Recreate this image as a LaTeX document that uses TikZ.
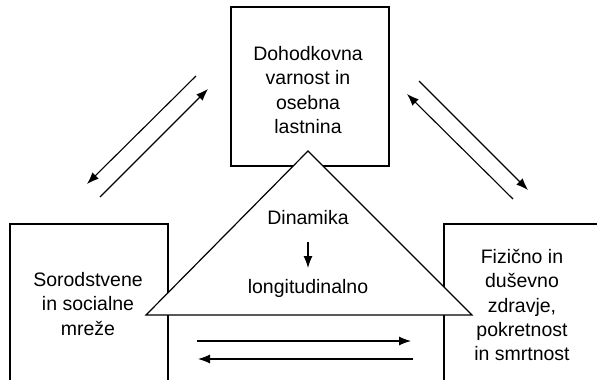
\documentclass[tikz,border=0pt]{standalone}
\usepackage{fontspec}
\setmainfont{Liberation Sans}
\usetikzlibrary{arrows.meta}

\tikzset{
  box/.style={draw, line width=1.2pt, fill=white, minimum width=158pt, inner sep=0pt},
  txt/.style={align=center, inner sep=0pt, font=\fontsize{19.5}{24.2}\selectfont},
  arr/.style={line width=1.1pt, -{Latex[length=12pt,width=9pt]}}
}

\begin{document}
\begin{tikzpicture}[x=1pt, y=-1pt]
        \useasboundingbox (0,0) rectangle (597,380);
        \clip (0,0) rectangle (597,380);

        % the three boxes
        \node[box, minimum height=159pt] (income) at (310,86.5) {};
        \node[box, minimum height=176pt] (kin) at (89,312) {};
        \node[box, minimum width=180pt, minimum height=176pt] (health) at (534,312) {};

        % triangle in the middle
        \draw[line width=1.2pt, fill=white] (146,315) -- (308,151) -- (472,315) -- cycle;

        \node[txt] (incometxt) at (308,90) {Dohodkovna\\varnost in\\osebna\\lastnina};
        \node[txt] (kintxt) at (88,304) {Sorodstvene\\in socialne\\mreže};
        \node[txt] (healthtxt) at (522,305) {Fizično in\\duševno\\zdravje,\\pokretnost\\in smrtnost};
        \node[txt] (dyn) at (308,218) {Dinamika};
        \node[txt] (longi) at (308,288) {longitudinalno};

        \coordinate (dyn1) at (308,242);
        \coordinate (dyn2) at (308,268);
        \draw[arr] (dyn1) -- (dyn2);

        % left pair
        \coordinate (l1) at (196,76);
        \coordinate (l2) at (87,184);
        \coordinate (l3) at (100,197);
        \coordinate (l4) at (208,89);
        \draw[arr] (l1) -- (l2);
        \draw[arr] (l3) -- (l4);

        % right pair
        \coordinate (r1) at (419,81);
        \coordinate (r2) at (528,190);
        \coordinate (r3) at (513,199);
        \coordinate (r4) at (407,94);
        \draw[arr] (r1) -- (r2);
        \draw[arr] (r3) -- (r4);

        % bottom pair
        \coordinate (b1) at (197,341);
        \coordinate (b2) at (411,341);
        \coordinate (b3) at (413,359);
        \coordinate (b4) at (198,359);
        \draw[arr] (b1) -- (b2);
        \draw[arr] (b3) -- (b4);
\end{tikzpicture}
\end{document}
